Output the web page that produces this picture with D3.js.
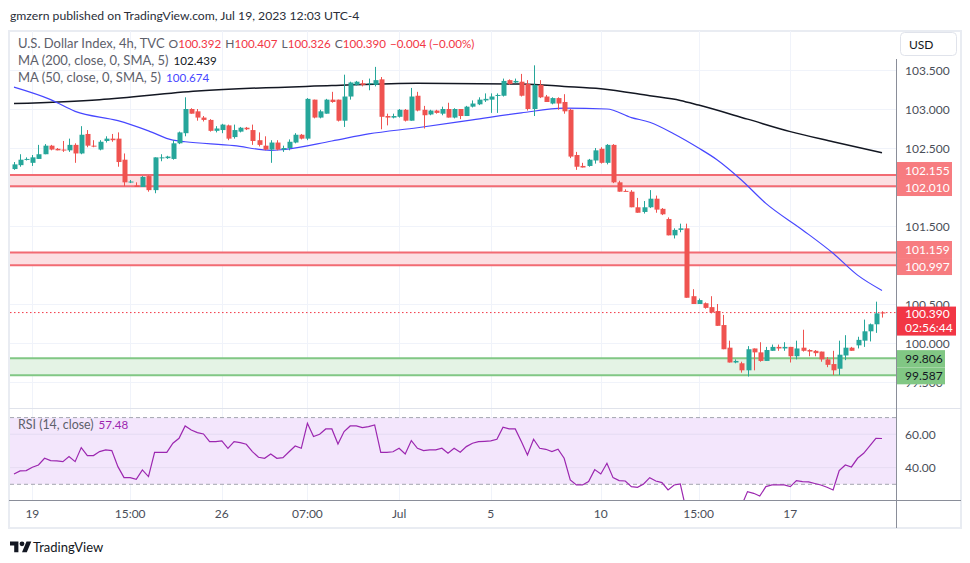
<!DOCTYPE html>
<html>
<head>
<meta charset="utf-8">
<script src="https://cdn.jsdelivr.net/npm/d3@7"></script>
<style>
  body { margin: 0; background: #fff; }
  text { font-family: Lato, "Noto Sans", sans-serif; }
</style>
</head>
<body>
<div id="chart"></div>
<script>
// 4h candles, U.S. Dollar Index (TVC), mid June -> Jul 19 2023
var opens = [102.23,102.28,102.35,102.31,102.36,102.42,102.53,102.49,102.48,102.47,
  102.54,102.43,102.68,102.53,102.48,102.59,102.62,102.62,102.35,102.06,
  102.02,102.00,102.14,101.96,102.37,102.37,102.36,102.56,102.69,103.00,
  102.97,102.89,102.86,102.72,102.73,102.79,102.64,102.71,102.76,102.73,
  102.60,102.53,102.48,102.57,102.48,102.50,102.57,102.67,102.62,103.12,
  102.89,102.94,103.12,103.12,102.85,103.16,103.31,103.33,103.32,103.31,
  103.38,102.91,102.89,102.90,102.99,102.85,103.17,102.99,102.93,102.98,
  102.94,103.00,102.89,103.00,102.91,103.03,103.06,103.11,103.12,103.17,
  103.17,103.37,103.34,103.35,103.32,103.00,103.31,103.16,103.07,103.14,
  103.09,102.99,102.41,102.27,102.27,102.34,102.49,102.31,102.54,102.06,
  101.95,101.94,101.74,101.68,101.74,101.85,101.72,101.59,101.38,101.45,
  101.47,100.60,100.50,100.51,100.46,100.41,100.23,99.94,99.75,99.74,
  99.65,99.93,99.88,99.77,99.90,99.95,99.93,99.95,99.83,99.94,
  99.91,99.90,99.89,99.79,99.73,99.67,99.84,99.94,99.97,100.03,
  100.15,100.24,100.392];
var highs = [102.32,102.42,102.38,102.41,102.54,102.55,102.54,102.50,102.59,102.62,
  102.56,102.78,102.73,102.60,102.60,102.65,102.68,102.70,102.43,102.09,
  102.06,102.14,102.15,102.38,102.42,102.40,102.60,102.71,103.15,103.01,
  103.00,102.91,102.87,102.78,102.81,102.80,102.80,102.77,102.77,102.80,
  102.70,102.65,102.60,102.60,102.53,102.61,102.69,102.68,103.14,103.12,
  102.99,103.13,103.22,103.12,103.44,103.35,103.36,103.37,103.39,103.54,
  103.41,102.94,102.94,103.00,103.00,103.27,103.22,103.04,102.99,102.99,
  103.03,103.08,103.01,103.00,103.04,103.11,103.15,103.20,103.20,103.20,
  103.39,103.38,103.39,103.45,103.37,103.56,103.37,103.18,103.15,103.15,
  103.19,103.00,102.45,102.31,102.36,102.50,102.51,102.55,102.55,102.08,
  101.97,101.96,101.86,101.82,101.96,101.89,101.73,101.61,101.47,101.53,
  101.53,100.69,100.57,100.52,100.60,100.50,100.36,100.03,99.79,99.76,
  99.96,99.93,100.01,99.95,99.98,99.98,100.01,99.95,100.03,100.17,
  99.92,99.91,99.89,99.82,99.90,100.03,100.10,99.95,100.08,100.30,
  100.25,100.53,100.407];
var lows = [102.22,102.26,102.34,102.27,102.36,102.42,102.47,102.47,102.45,102.45,
  102.31,102.42,102.51,102.51,102.47,102.57,102.58,102.26,102.01,102.05,
  102.00,102.00,101.94,101.92,102.33,102.36,102.35,102.55,102.65,102.94,
  102.85,102.84,102.71,102.70,102.69,102.60,102.62,102.70,102.73,102.54,
  102.52,102.47,102.31,102.47,102.45,102.47,102.56,102.61,102.60,102.88,
  102.88,102.94,103.08,102.84,102.77,103.12,103.30,103.29,103.24,103.29,
  102.74,102.79,102.88,102.89,102.84,102.85,102.97,102.75,102.92,102.94,
  102.92,102.89,102.88,102.87,102.91,103.02,103.05,103.09,102.95,102.95,
  103.16,103.31,103.33,103.16,102.98,102.91,103.14,103.09,103.06,102.99,
  102.94,102.37,102.22,102.25,102.26,102.30,102.30,102.29,102.05,101.94,
  101.94,101.74,101.67,101.66,101.73,101.67,101.64,101.38,101.34,101.42,
  100.58,100.50,100.50,100.44,100.38,100.22,99.92,99.75,99.74,99.62,
  99.57,99.65,99.76,99.77,99.90,99.90,99.90,99.75,99.79,99.89,
  99.83,99.83,99.76,99.69,99.59,99.59,99.78,99.90,99.93,99.95,
  100.02,100.13,100.326];
var closes = [102.29,102.35,102.36,102.38,102.42,102.53,102.48,102.47,102.47,102.54,
  102.43,102.67,102.53,102.52,102.58,102.62,102.60,102.32,102.06,102.07,
  102.00,102.13,101.96,102.38,102.38,102.39,102.56,102.70,103.00,102.94,
  102.89,102.86,102.72,102.75,102.80,102.62,102.73,102.76,102.74,102.59,
  102.54,102.48,102.57,102.48,102.50,102.58,102.67,102.62,103.13,102.89,
  102.97,103.12,103.09,102.85,103.16,103.34,103.35,103.31,103.33,103.37,
  102.90,102.89,102.91,102.99,102.85,103.16,102.98,102.92,102.98,102.95,
  103.00,102.89,103.00,102.91,103.03,103.07,103.12,103.13,103.16,103.18,
  103.36,103.32,103.36,103.17,103.00,103.31,103.15,103.09,103.14,103.07,
  102.97,102.39,102.26,102.25,102.35,102.47,102.31,102.54,102.06,101.94,
  101.94,101.74,101.67,101.74,101.85,101.71,101.65,101.38,101.45,101.47,
  100.58,100.50,100.55,100.45,100.39,100.22,99.92,99.75,99.77,99.65,
  99.92,99.88,99.77,99.91,99.95,99.93,99.95,99.83,99.93,99.90,
  99.89,99.87,99.79,99.72,99.65,99.85,99.94,99.90,100.04,100.15,
  100.24,100.38,100.390];

// moving averages: [bar, value]
var ma200 = [[0,103.07],[14,103.12],[30,103.23],[52,103.30],[66,103.33],[83,103.32],
  [90,103.29],[96,103.26],[104,103.17],[109,103.11],[112,103.05],[120,102.87],
  [127,102.71],[134,102.58],[142,102.439]];
var ma50 = [[0,103.28],[6,103.12],[10,102.97],[17,102.85],[22,102.72],[26,102.60],
  [28,102.58],[36,102.53],[42,102.47],[44,102.48],[52,102.59],[58,102.68],[66,102.76],
  [75,102.86],[83,102.95],[90,103.01],[97,103.00],[101,102.89],[104,102.83],
  [108,102.68],[112,102.50],[115,102.35],[119,102.09],[123,101.79],[129,101.45],
  [134,101.15],[138,100.87],[142,100.674]];

// RSI(14), one value per bar
var rsi = [36.2,38,38.2,40.2,41.6,45.6,44.2,44,43.6,46.6,
  43.6,52,47.2,47.2,49.6,50.6,50.2,40.6,34,34,
  33,38.6,34.6,49.2,49.2,49.2,54.6,57.6,65,62.6,
  61,60.2,55.6,55.6,56,51.6,55.6,55,54,49.6,
  46.2,45.6,48.2,45.6,46,49.5,53,51.6,66.6,58.6,
  60,63.2,63.2,54.2,61.6,65,65,64,64.6,65.6,
  49.2,49.2,49.5,51.6,48.2,56.2,51.6,50.2,50.6,50.6,
  51.6,48.6,51.6,49.2,52.6,54.6,55.6,55.8,56,57,
  64.2,63.2,63.2,55.6,47.6,57,51.6,51,49.6,51,
  45.6,32.6,29.6,29.6,31.6,38.8,36.2,42.6,34,32.2,
  32,28.6,28.2,30.2,34,32,31,26.6,29.6,30.2,
  14,13,14,13.5,12.5,11,9.5,8.5,9,17,
  25.6,24.6,23,28.6,29.6,29.6,29.6,28.6,32.2,31.6,
  31.4,30.5,29.6,28.2,26.6,38.2,41.6,40.4,45.6,48.6,
  53,57.6,57.48];

var tickBars = [3, 19, 34, 48, 63, 78, 96, 112, 127];
var tickLabels = ["19", "15:00", "26", "07:00", "Jul", "5", "10", "15:00", "17"];
var priceTicks = [103.5, 103.0, 102.5, 102.0, 101.5, 101.0, 100.5, 100.0, 99.5];
var rsiTicks = [60, 40];
var redZones = [[102.155, 102.010], [101.159, 100.997]];
var greenZones = [[99.806, 99.587]];
var changeText = "\u22120.004 (\u22120.00%)";
var countdown = "02:56:44";

var W = 970, H = 563;
var left = 10, right = 896, mainTop = 31, mainBottom = 408, rsiBottom = 500, frameBottom = 528;

var svg = d3.select("#chart").append("svg")
  .attr("width", W).attr("height", H);

var x = d3.scaleLinear().domain([0, opens.length - 1]).range([14, 882]);
var y = d3.scaleLinear().domain([99.5, 103.5]).range([382, 70]);
var yr = d3.scaleLinear().domain([30, 70]).range([484.3, 417.6]);

var defs = svg.append("defs");
defs.append("clipPath").attr("id", "clipMain").append("rect")
  .attr("x", left).attr("y", mainTop).attr("width", right - left).attr("height", mainBottom - mainTop);
defs.append("clipPath").attr("id", "clipRsi").append("rect")
  .attr("x", left).attr("y", mainBottom).attr("width", right - left).attr("height", rsiBottom - mainBottom);

// title
svg.append("text").attr("x", 10).attr("y", 15).attr("dominant-baseline", "central")
  .style("font-size", "12.2px").style("fill", "#2a2e39")
  .text("gmzern published on TradingView.com, Jul 19, 2023 12:03 UTC-4");

// frame
svg.append("rect").attr("x", 9).attr("y", mainTop).attr("width", 952).attr("height", frameBottom - mainTop)
  .style("fill", "none").style("stroke", "#e9ecf2").style("stroke-width", 2);

// grid
var grid = svg.append("g").style("stroke", "#f0f3fa").style("stroke-width", 1)
  .attr("shape-rendering", "crispEdges");
grid.selectAll(".vg").data(tickBars).enter().append("line")
  .attr("x1", function(d) { return Math.round(x(d)) + 0.5; })
  .attr("x2", function(d) { return Math.round(x(d)) + 0.5; })
  .attr("y1", mainTop).attr("y2", rsiBottom);
grid.selectAll(".hg").data(priceTicks).enter().append("line")
  .attr("x1", left).attr("x2", right)
  .attr("y1", function(d) { return Math.round(y(d)) + 0.5; })
  .attr("y2", function(d) { return Math.round(y(d)) + 0.5; });

// zones
function drawZones(zones, fill, line) {
  var g = svg.append("g").attr("clip-path", "url(#clipMain)");
  zones.forEach(function(z) {
    g.append("rect").attr("x", left).attr("width", right - left)
      .attr("y", y(z[0])).attr("height", y(z[1]) - y(z[0])).style("fill", fill);
    z.forEach(function(p) {
      g.append("line").attr("x1", left).attr("x2", right)
        .attr("y1", y(p)).attr("y2", y(p))
        .style("stroke", line).style("stroke-width", 2);
    });
  });
}
drawZones(redZones, "#fcdfe2", "#f26b73");
drawZones(greenZones, "#e4f3e5", "#81c784");

// moving averages
var maLine = d3.line()
  .x(function(d) { return x(d[0]); })
  .y(function(d) { return y(d[1]); })
  .curve(d3.curveMonotoneX);
var plot = svg.append("g").attr("clip-path", "url(#clipMain)");
plot.append("path").attr("d", maLine(ma200))
  .style("fill", "none").style("stroke", "#131722").style("stroke-width", 1.5);
plot.append("path").attr("d", maLine(ma50))
  .style("fill", "none").style("stroke", "#4747ff").style("stroke-width", 1.2);

// candles
var up = "#26a69a", down = "#ef5350";
var bars = d3.range(opens.length);
var candle = plot.selectAll(".candle").data(bars).enter().append("g")
  .attr("class", "candle")
  .style("fill", function(i) { return closes[i] >= opens[i] ? up : down; })
  .style("stroke", function(i) { return closes[i] >= opens[i] ? up : down; });
candle.append("line")
  .attr("x1", function(i) { return Math.round(x(i)) + 0.5; })
  .attr("x2", function(i) { return Math.round(x(i)) + 0.5; })
  .attr("y1", function(i) { return y(highs[i]); })
  .attr("y2", function(i) { return y(lows[i]); })
  .style("stroke-width", 1);
candle.append("rect")
  .attr("x", function(i) { return Math.round(x(i)) - 1.5; })
  .attr("width", 5)
  .attr("y", function(i) { return y(Math.max(opens[i], closes[i])); })
  .attr("height", function(i) { return Math.max(1, Math.abs(y(opens[i]) - y(closes[i]))); })
  .style("stroke", "none");

// last price line
var last = closes[closes.length - 1];
svg.append("line").attr("x1", left).attr("x2", right)
  .attr("y1", y(last)).attr("y2", y(last))
  .style("stroke", "#f23645").style("stroke-width", 1).style("stroke-dasharray", "1.5,2.5");

// RSI pane
var rsiG = svg.append("g");
rsiG.append("rect").attr("x", left).attr("width", right - left)
  .attr("y", yr(70)).attr("height", yr(30) - yr(70)).style("fill", "#f3e6fc");
rsiG.selectAll(".rg").data(rsiTicks).enter().append("line")
  .attr("x1", left).attr("x2", right)
  .attr("y1", function(d) { return yr(d); }).attr("y2", function(d) { return yr(d); })
  .style("stroke", "#e6dcf2").style("stroke-width", 1);
rsiG.selectAll(".rd").data([70, 30]).enter().append("line")
  .attr("x1", left).attr("x2", right)
  .attr("y1", function(d) { return yr(d); }).attr("y2", function(d) { return yr(d); })
  .style("stroke", "#a3a6af").style("stroke-width", 1).style("stroke-dasharray", "4,3");
rsiG.append("path").attr("clip-path", "url(#clipRsi)")
  .attr("d", d3.line().x(function(d, i) { return x(i); }).y(function(d) { return yr(d); })(rsi))
  .style("fill", "none").style("stroke", "#9c27b0").style("stroke-width", 1.2);

// separators and axis lines
svg.append("line").attr("x1", 9).attr("x2", 961).attr("y1", mainBottom + 0.5).attr("y2", mainBottom + 0.5)
  .style("stroke", "#e0e3eb").style("stroke-width", 1);
svg.append("line").attr("x1", 9).attr("x2", 961).attr("y1", rsiBottom + 0.5).attr("y2", rsiBottom + 0.5)
  .style("stroke", "#8a8e99").style("stroke-width", 1);
svg.append("line").attr("x1", right + 0.5).attr("x2", right + 0.5).attr("y1", 59).attr("y2", frameBottom)
  .style("stroke", "#8a8e99").style("stroke-width", 1);

// price scale labels
svg.selectAll(".pt").data(priceTicks).enter().append("text")
  .attr("x", 905).attr("y", function(d) { return y(d); })
  .attr("dominant-baseline", "central")
  .style("font-size", "12px").style("fill", "#4a4e59")
  .text(function(d) { return d3.format(".3f")(d); });
svg.selectAll(".rt").data(rsiTicks).enter().append("text")
  .attr("x", 905).attr("y", function(d) { return yr(d); })
  .attr("dominant-baseline", "central")
  .style("font-size", "12px").style("fill", "#4a4e59")
  .text(function(d) { return d3.format(".2f")(d); });

// USD button
svg.append("rect").attr("x", 900.5).attr("y", 32.5).attr("width", 56).attr("height", 23).attr("rx", 4)
  .style("fill", "#fff").style("stroke", "#e0e3eb");
svg.append("text").attr("x", 909).attr("y", 44).attr("dominant-baseline", "central")
  .style("font-size", "12px").style("fill", "#131722").text("USD");

// level labels on the price scale (nudged apart like the platform does)
function priceLabel(p, nudge, fill, color, w) {
  var cy = y(p) + nudge;
  svg.append("rect").attr("x", 897).attr("y", cy - 8.5).attr("width", w).attr("height", 17)
    .style("fill", fill);
  svg.append("text").attr("x", 905).attr("y", cy).attr("dominant-baseline", "central")
    .style("font-size", "12px").style("fill", color).text(d3.format(".3f")(p));
}
priceLabel(redZones[0][0], -4.4, "#f77c80", "#fff", 55);
priceLabel(redZones[0][1], 1.3, "#f77c80", "#fff", 55);
priceLabel(redZones[1][0], -3.1, "#f77c80", "#fff", 55);
priceLabel(redZones[1][1], 1.3, "#f77c80", "#fff", 55);
priceLabel(greenZones[0][0], 0.5, "#81c784", "#131722", 48);
priceLabel(greenZones[0][1], 0.6, "#81c784", "#131722", 48);

// current price + countdown
svg.append("rect").attr("x", 897).attr("y", y(last) - 6).attr("width", 59).attr("height", 29)
  .style("fill", "#f23645");
svg.append("text").attr("x", 905).attr("y", y(last) + 1).attr("dominant-baseline", "central")
  .style("font-size", "12px").style("fill", "#fff").text(d3.format(".3f")(last));
svg.append("text").attr("x", 905).attr("y", y(last) + 15).attr("dominant-baseline", "central")
  .style("font-size", "12px").style("fill", "#fff").text(countdown);

// time axis labels
svg.selectAll(".xt").data(tickBars).enter().append("text")
  .attr("x", function(d) { return x(d); }).attr("y", 513)
  .attr("text-anchor", "middle").attr("dominant-baseline", "central")
  .style("font-size", "12px").style("fill", "#4a4e59")
  .text(function(d, i) { return tickLabels[i]; });

// legends
var gray = "#5d606b", red = "#f23645";
var fmt = d3.format(".3f");
var n = opens.length - 1;
var l1 = svg.append("text").attr("x", 18).attr("y", 42.5).attr("dominant-baseline", "central")
  .style("font-size", "13px");
l1.append("tspan").style("fill", gray).text("U.S. Dollar Index, 4h, TVC");
[["O", opens[n]], ["H", highs[n]], ["L", lows[n]], ["C", closes[n]]].forEach(function(p, i) {
  l1.append("tspan").attr("dx", i === 0 ? 4 : 4).style("fill", gray).style("font-size", "12px").text(p[0]);
  l1.append("tspan").style("fill", red).style("font-size", "11.6px").text(fmt(p[1]));
});
l1.append("tspan").attr("dx", 4).style("fill", red).style("font-size", "11.6px").text(changeText);

var l2 = svg.append("text").attr("x", 18).attr("y", 59.5).attr("dominant-baseline", "central")
  .style("font-size", "13px");
l2.append("tspan").style("fill", gray).text("MA (200, close, 0, SMA, 5)");
l2.append("tspan").attr("dx", 5).style("fill", "#131722").style("font-size", "11.6px")
  .text(fmt(ma200[ma200.length - 1][1]));

var l3 = svg.append("text").attr("x", 18).attr("y", 76.5).attr("dominant-baseline", "central")
  .style("font-size", "13px");
l3.append("tspan").style("fill", gray).text("MA (50, close, 0, SMA, 5)");
l3.append("tspan").attr("dx", 5).style("fill", "#4747ff").style("font-size", "11.6px")
  .text(fmt(ma50[ma50.length - 1][1]));

var l4 = svg.append("text").attr("x", 18).attr("y", 424).attr("dominant-baseline", "central")
  .style("font-size", "12.4px");
l4.append("tspan").style("fill", gray).text("RSI (14, close)");
l4.append("tspan").attr("dx", 5).style("fill", "#9c27b0").style("font-size", "11.6px")
  .text(d3.format(".2f")(rsi[rsi.length - 1]));

// TradingView logo
var logo = svg.append("g").attr("transform", "translate(10,539) scale(0.6)").style("fill", "#131722");
logo.append("path").attr("d", "M14 22H7V11H0V4h14v18zM28 22h-8l7.5-18h8L28 22z");
logo.append("circle").attr("cx", 20).attr("cy", 8).attr("r", 4);
svg.append("text").attr("x", 33).attr("y", 547).attr("dominant-baseline", "central")
  .style("font-size", "13px").style("fill", "#131722").text("TradingView");
</script>
</body>
</html>
